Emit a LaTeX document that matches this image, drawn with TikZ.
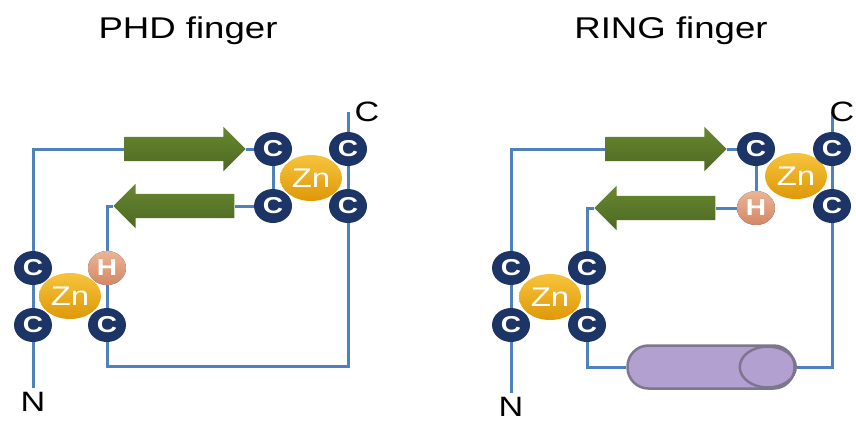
\documentclass[tikz,border=0pt]{standalone}
\usepackage{fontspec}
\setmainfont{Liberation Sans}[FakeStretch=1.22]
\usetikzlibrary{shapes.geometric, shapes.arrows, positioning, backgrounds}

\definecolor{chainblue}{RGB}{79,129,189}
\definecolor{cysblue}{RGB}{28,52,102}
\definecolor{zinc}{RGB}{222,152,8}
\definecolor{zinctop}{RGB}{246,196,60}
\definecolor{hisred}{RGB}{210,136,100}
\definecolor{histop}{RGB}{236,180,150}
\definecolor{strandgreen}{RGB}{76,104,34}
\definecolor{strandtop}{RGB}{104,136,48}
\definecolor{helixfill}{RGB}{178,160,208}
\definecolor{helixedge}{RGB}{125,118,140}

\tikzset{
    cys/.style={ellipse, fill=cysblue, minimum width=38pt, minimum height=34pt, inner sep=0pt, text=white, font=\bfseries\fontsize{23}{23}\selectfont},
    his/.style={cys, top color=histop, bottom color=hisred},
    zn/.style={ellipse, top color=zinctop, bottom color=zinc, minimum width=62pt, minimum height=46pt, inner sep=0pt, text=white, font=\fontsize{27}{27}\selectfont},
    strand/.style={single arrow, top color=strandtop, bottom color=strandgreen, minimum height=121pt, single arrow head extend=10pt, inner sep=0pt, inner ysep=12pt},
    helixbox/.style={rectangle, rounded corners=21pt, fill=helixfill, draw=helixedge, line width=2.5pt, minimum width=167pt, minimum height=43pt, inner sep=0pt},
    endlabel/.style={font=\fontsize{28}{28}\selectfont, inner sep=4pt},
    paneltitle/.style={font=\fontsize{30}{30}\selectfont, anchor=base},
    chainline/.style={draw=chainblue, line width=3pt}
}

\begin{document}
\begin{tikzpicture}[x=1pt, y=-1pt, node distance=57pt, >=stealth]
    \useasboundingbox (0,0) rectangle (856,424);
    \clip (0,0) rectangle (856,424);

    \node (phd) [paneltitle] at (188,38) {PHD finger};
    \node (ring) [paneltitle] at (671,38) {RING finger};

    % PHD finger
    \node (zn1) [zn] at (70,296) {Zn};
    \node (zn2) [zn] at (311,178) {Zn};
    \node (cys1) [cys] at (33,268) {C};
    \node (cys2) [cys, below of=cys1] {C};
    \node (his1) [his, right of=cys1, node distance=74pt] {H};
    \node (cys3) [cys, below of=his1] {C};
    \node (cys4) [cys] at (273,149) {C};
    \node (cys5) [cys, right of=cys4, node distance=75pt] {C};
    \node (cys6) [cys, below of=cys4] {C};
    \node (cys7) [cys, right of=cys6, node distance=75pt] {C};
    \node (strand1) [strand] at (179,149) {};
    \node (strand2) [strand, shape border rotate=180] at (180,206) {};
    \node (nterm1) [endlabel] at (33,402) {N};

    % RING finger
    \node (zn3) [zn] at (550,297) {Zn};
    \node (zn4) [zn] at (796,176) {Zn};
    \node (cys8) [cys] at (511,268) {C};
    \node (cys9) [cys, below of=cys8] {C};
    \node (cys10) [cys, right of=cys8, node distance=76pt] {C};
    \node (cys11) [cys, below of=cys10] {C};
    \node (cys12) [cys] at (756,149) {C};
    \node (cys13) [cys, right of=cys12, node distance=76pt] {C};
    \node (his2) [his, below of=cys12, node distance=59pt] {H};
    \node (cys14) [cys, below of=cys13] {C};
    \node (strand3) [strand] at (660,149) {};
    \node (strand4) [strand, shape border rotate=180] at (661,208) {};
    \node (helix) [helixbox] at (711,367) {};
    \draw [draw=helixedge, line width=2.5pt] ([xshift=-28pt]helix.east) ellipse (28pt and 20.5pt);
    \node (nterm2) [endlabel] at (511,407) {N};

    \begin{pgfonlayer}{background}
        \draw [chainline] (cys2) -- (nterm1);
        \draw [chainline] (cys1) -- (cys2);
        \draw [chainline] (cys1) |- (strand1.tail);
        \draw [chainline] (strand1.tip) -- (cys4);
        \draw [chainline] (cys4) -- (cys6);
        \draw [chainline] (cys6) -- (strand2.tail);
        \draw [chainline] (strand2.tip) -| (his1);
        \draw [chainline] (his1) -- (cys3);
        \draw [chainline] (cys3) -- ++(0,41) -| (cys7);
        \draw [chainline] (cys7) -- (cys5);
        \draw [chainline] (cys5) -- ++(0,-37) coordinate (cend1);

        \draw [chainline] (cys9) -- (nterm2);
        \draw [chainline] (cys8) -- (cys9);
        \draw [chainline] (cys8) |- (strand3.tail);
        \draw [chainline] (strand3.tip) -- (cys12);
        \draw [chainline] (cys12) -- (his2);
        \draw [chainline] (his2) -- (strand4.tail);
        \draw [chainline] (strand4.tip) -| (cys10);
        \draw [chainline] (cys10) -- (cys11);
        \draw [chainline] (cys11) |- (helix);
        \draw [chainline] (helix) -| (cys14);
        \draw [chainline] (cys14) -- (cys13);
        \draw [chainline] (cys13) -- ++(0,-37) coordinate (cend2);
    \end{pgfonlayer}

    \node (cterm1) [endlabel, right of=cend1, node distance=19pt] {C};
    \node (cterm2) [endlabel, right of=cend2, node distance=10pt] {C};
\end{tikzpicture}
\end{document}
